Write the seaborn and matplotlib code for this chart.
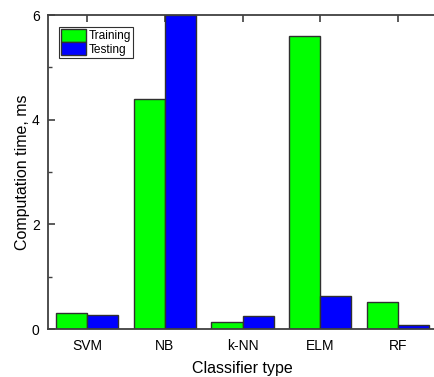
import matplotlib
matplotlib.use("Agg")
import matplotlib.pyplot as plt
import seaborn as sns
import pandas as pd
from matplotlib.ticker import MultipleLocator

# Computation time per classifier (ms)
classifiers = ["SVM", "NB", "k-NN", "ELM", "RF"]
training_ms = [0.31, 4.40, 0.13, 5.60, 0.52]
testing_ms = [0.27, 6.00, 0.25, 0.63, 0.08]
phases = ["Training", "Testing"]
y_ticks = [0, 2, 4, 6]

df = pd.DataFrame({
    "Classifier": classifiers * 2,
    "Phase": [phases[0]] * len(classifiers) + [phases[1]] * len(classifiers),
    "Time": training_ms + testing_ms,
})

sns.set_theme(style="white")
plt.rcParams["font.family"] = ["Liberation Sans", "DejaVu Sans"]
plt.rcParams["text.color"] = "black"
plt.rcParams["axes.labelcolor"] = "black"
plt.rcParams["xtick.labelcolor"] = "black"
plt.rcParams["ytick.labelcolor"] = "black"

fig = plt.figure(figsize=(4.34, 3.77), dpi=100)
ax = fig.add_axes([0.1106, 0.1273, 0.8964, 0.8329])

sns.barplot(
    data=df, x="Classifier", y="Time", hue="Phase",
    order=classifiers, hue_order=phases,
    palette={"Training": "#00ff00", "Testing": "#0000ff"},
    edgecolor="#303030", linewidth=1.0, width=0.8,
    saturation=1.0, ax=ax,
)

ax.set_xlim(-0.5, 4.5)
ax.set_ylim(0, 6)
ax.set_yticks(y_ticks)
ax.set_yticklabels([str(t) for t in y_ticks])
ax.yaxis.set_minor_locator(MultipleLocator(1))

spine_color = "#404040"
for side in ["left", "top", "bottom"]:
    ax.spines[side].set_visible(True)
    ax.spines[side].set_color(spine_color)
    ax.spines[side].set_linewidth(1.3)
ax.spines["right"].set_visible(False)

ax.tick_params(axis="y", which="major", direction="in", length=5, width=1.2,
               color=spine_color, labelsize=10, left=True, right=False, pad=6)
ax.tick_params(axis="y", which="minor", direction="in", length=3, width=1.0,
               color=spine_color, left=True, right=False)
ax.tick_params(axis="x", which="major", direction="in", length=5, width=1.2,
               color=spine_color, labelsize=10, bottom=False, top=True, pad=7)

ax.set_xlabel("Classifier type", fontsize=11.5, labelpad=6)
ax.set_ylabel("Computation time, ms", fontsize=11.5, labelpad=1)

leg = ax.legend(
    loc="upper left", bbox_to_anchor=(0.028, 0.962), fontsize=8.6,
    frameon=True, fancybox=False, edgecolor="#303030", framealpha=1,
    handlelength=2.1, handleheight=1.3, labelspacing=0.0,
    borderpad=0.15, borderaxespad=0.0, handletextpad=0.25, title=None,
)
leg.get_frame().set_linewidth(0.8)
for t in leg.get_texts():
    t.set_color("black")

fig.savefig("out.png", dpi=100)
